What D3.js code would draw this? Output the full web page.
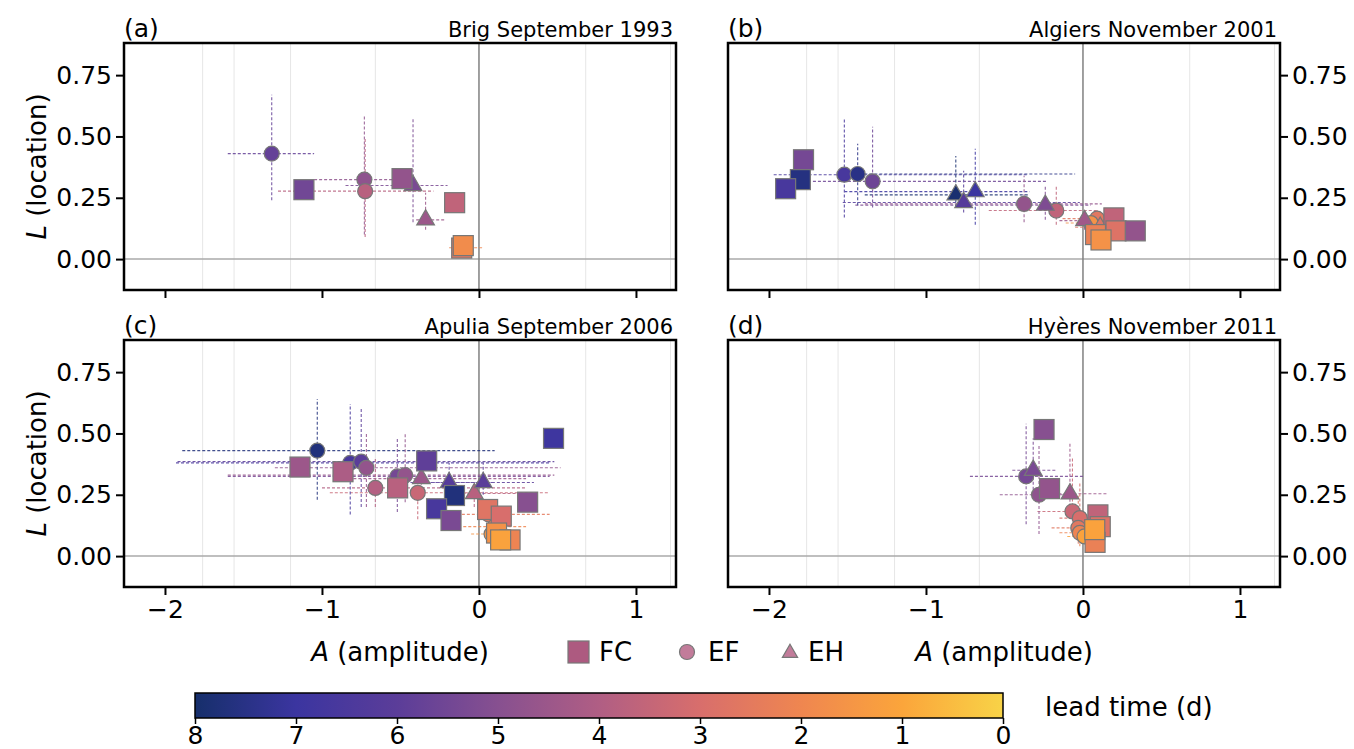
<!DOCTYPE html>
<html>
<head>
<meta charset="utf-8">
<script src="https://cdn.jsdelivr.net/npm/d3@7"></script>
<style>
  body { margin: 0; background: #fff; }
  text { font-family: "DejaVu Sans", sans-serif; fill: #000; }
</style>
</head>
<body>
<svg id="fig" width="1354" height="749"></svg>
<script>
  // ---- data: [A, L, lead] for FC; [A, L, lead, aLo, aHi, lLo, lHi] for EF / EH ----
  var brigFC = [[-1.115, 0.283, 5.5], [-0.49, 0.328, 4.7], [-0.155, 0.23, 3.6], [-0.11, 0.045, 2.6], [-0.10, 0.055, 1.8]];
  var brigEF = [
    [-1.32, 0.43, 5.8, -1.60, -1.05, 0.24, 0.67],
    [-0.73, 0.324, 4.8, -1.05, -0.55, 0.10, 0.59],
    [-0.725, 0.277, 3.8, -1.28, -0.29, 0.09, 0.49],
    [-0.10, 0.046, 2.0, -0.19, 0.02, 0.03, 0.07]
  ];
  var brigEH = [
    [-0.42, 0.30, 5.3, -0.85, -0.20, 0.15, 0.57],
    [-0.34, 0.16, 4.5, -0.40, -0.21, 0.12, 0.27]
  ];

  var algiersFC = [[-1.78, 0.405, 5.4], [-1.80, 0.324, 7.6], [-1.894, 0.287, 6.6], [0.197, 0.168, 3.6], [0.21, 0.115, 2.8], [0.333, 0.115, 4.7], [0.08, 0.10, 2.2], [0.115, 0.078, 1.6]];
  var algiersEF = [
    [-1.52, 0.344, 6.6, -1.97, -0.35, 0.17, 0.57],
    [-1.435, 0.347, 7.5, -1.52, -0.05, 0.22, 0.47],
    [-1.34, 0.317, 5.6, -1.72, -0.23, 0.21, 0.54],
    [-0.375, 0.225, 4.7, -1.39, 0.12, 0.15, 0.34],
    [-0.17, 0.198, 3.6, -0.60, 0.10, 0.14, 0.30],
    [0.09, 0.165, 2.6, -0.13, 0.18, 0.13, 0.20],
    [0.05, 0.147, 1.6, -0.11, 0.12, 0.12, 0.18]
  ];
  var algiersEH = [
    [-0.81, 0.262, 7.9, -1.39, -0.34, 0.21, 0.42],
    [-0.76, 0.231, 6.2, -1.53, -0.02, 0.19, 0.36],
    [-0.686, 0.275, 7.0, -1.52, -0.34, 0.14, 0.45],
    [-0.24, 0.22, 5.2, -1.45, 0.05, 0.16, 0.30],
    [0.01, 0.157, 4.4, -0.15, 0.12, 0.12, 0.20],
    [0.11, 0.13, 2.7, -0.05, 0.18, 0.10, 0.16]
  ];

  var apuliaFC = [[-1.14, 0.363, 4.5], [-0.866, 0.344, 4.1], [-0.518, 0.278, 3.8], [-0.333, 0.388, 5.9], [-0.156, 0.247, 7.7], [-0.27, 0.193, 6.6], [-0.178, 0.145, 5.3], [0.055, 0.19, 2.7], [0.142, 0.163, 3.0], [0.31, 0.22, 5.0], [0.475, 0.48, 6.9], [0.112, 0.094, 1.6], [0.198, 0.066, 2.1], [0.138, 0.066, 1.1]];
  var apuliaEF = [
    [-1.03, 0.43, 7.7, -1.89, 0.10, 0.23, 0.64],
    [-0.82, 0.38, 6.6, -1.93, 0.45, 0.17, 0.62],
    [-0.75, 0.385, 6.0, -1.92, 0.48, 0.20, 0.60],
    [-0.717, 0.36, 4.7, -1.30, 0.52, 0.20, 0.50],
    [-0.66, 0.278, 3.9, -1.00, 0.30, 0.20, 0.40],
    [-0.52, 0.325, 5.4, -1.60, 0.45, 0.18, 0.48],
    [-0.47, 0.33, 4.7, -1.60, 0.48, 0.22, 0.50],
    [-0.39, 0.258, 3.4, -0.95, 0.45, 0.15, 0.33],
    [0.06, 0.17, 2.5, -0.30, 0.45, 0.14, 0.20],
    [0.10, 0.12, 2.0, -0.10, 0.30, 0.10, 0.15],
    [0.08, 0.09, 1.5, -0.05, 0.15, 0.07, 0.11]
  ];
  var apuliaEH = [
    [-0.367, 0.316, 4.5, -0.80, 0.30, 0.27, 0.36],
    [-0.19, 0.30, 6.2, -0.50, 0.10, 0.25, 0.38],
    [-0.03, 0.255, 3.8, -0.20, 0.30, 0.20, 0.30],
    [0.027, 0.30, 6.0, -0.30, 0.35, 0.25, 0.38]
  ];

  var hyeresFC = [[-0.248, 0.516, 5.0], [-0.213, 0.275, 4.7], [0.095, 0.168, 3.6], [0.11, 0.12, 2.8], [0.077, 0.056, 2.2], [0.075, 0.108, 1.1]];
  var hyeresEF = [
    [-0.362, 0.325, 5.4, -0.72, 0.0, 0.13, 0.54],
    [-0.28, 0.25, 4.8, -0.53, -0.11, 0.09, 0.45],
    [-0.067, 0.182, 3.4, -0.29, 0.0, 0.10, 0.40],
    [-0.02, 0.155, 3.0, -0.15, 0.10, 0.08, 0.30],
    [-0.03, 0.115, 2.6, -0.20, 0.05, 0.05, 0.25],
    [-0.02, 0.095, 2.1, -0.15, 0.10, 0.04, 0.20],
    [0.01, 0.08, 1.1, -0.10, 0.07, 0.05, 0.15]
  ];
  var hyeresEH = [
    [-0.317, 0.35, 5.3, -0.45, -0.17, 0.25, 0.48],
    [-0.083, 0.254, 4.5, -0.22, 0.15, 0.16, 0.46]
  ];

  var panelLetters = ["(a)", "(b)", "(c)", "(d)"];
  var panelTitles = ["Brig September 1993", "Algiers November 2001", "Apulia September 2006", "Hyères November 2011"];
  var xTicks = [-2, -1, 0, 1];
  var yTicks = [0, 0.25, 0.5, 0.75];
  var gridA = [-1.76, -1.56, -1.2, -0.66, 0.68, 1.22];
  var leadTicks = [8, 7, 6, 5, 4, 3, 2, 1, 0];
  var cmapColors = ["#162f6b", "#3b35a0", "#5b3d99", "#875090", "#b05e84", "#d86e6c", "#ef8650", "#fba53b", "#f8d347"];

  var panels = [
    {fc: brigFC, ef: brigEF, eh: brigEH, col: 0, row: 0},
    {fc: algiersFC, ef: algiersEF, eh: algiersEH, col: 1, row: 0},
    {fc: apuliaFC, ef: apuliaEF, eh: apuliaEH, col: 0, row: 1},
    {fc: hyeresFC, ef: hyeresEF, eh: hyeresEH, col: 1, row: 1}
  ];

  // ---- layout ----
  var colX = [124, 728],
      rowY = [43, 340],
      pw = 552,
      ph = 247;

  var tickFont = 25,
      labelFont = 26;

  var color = d3.scaleLinear()
      .domain(leadTicks)
      .range(cmapColors)
      .interpolate(d3.interpolateRgb);

  var svg = d3.select("#fig");

  var x = d3.scaleLinear().domain([-2.261, 1.255]).range([0, pw]);
  var y = d3.scaleLinear().domain([-0.126, 0.881]).range([ph, 0]);

  function styleAxis(a, w) {
    a.select(".domain").remove();
    a.attr("font-size", tickFont).attr("font-family", "DejaVu Sans");
    a.selectAll(".tick line").attr("stroke", "#000").attr("stroke-width", w);
  }

  panels.forEach(function(p, i) {
    var g = svg.append("g")
        .attr("transform", "translate(" + colX[p.col] + "," + rowY[p.row] + ")");

    g.append("defs").append("clipPath").attr("id", "clip" + i)
      .append("rect").attr("width", pw).attr("height", ph);

    var plot = g.append("g").attr("clip-path", "url(#clip" + i + ")");

    plot.selectAll(".grid").data(gridA).enter().append("line")
        .attr("x1", d => x(d)).attr("x2", d => x(d))
        .attr("y1", 0).attr("y2", ph)
        .attr("stroke", "#e6e6e6").attr("stroke-width", 1);

    plot.append("line")
        .attr("x1", 0).attr("x2", pw).attr("y1", y(0)).attr("y2", y(0))
        .attr("stroke", "#aaa").attr("stroke-width", 1.5);
    plot.append("line")
        .attr("x1", x(0)).attr("x2", x(0)).attr("y1", 0).attr("y2", ph)
        .attr("stroke", "#808080").attr("stroke-width", 1.5);

    // error bars
    var err = p.ef.concat(p.eh);
    var eb = plot.append("g").attr("stroke-dasharray", "3,2").attr("stroke-width", 1.1).attr("opacity", 0.85);
    eb.selectAll(".h").data(err).enter().append("line")
        .attr("x1", d => x(d[3])).attr("x2", d => x(d[4]))
        .attr("y1", d => y(d[1])).attr("y2", d => y(d[1]))
        .attr("stroke", d => color(d[2]));
    eb.selectAll(".v").data(err).enter().append("line")
        .attr("x1", d => x(d[0])).attr("x2", d => x(d[0]))
        .attr("y1", d => y(d[5])).attr("y2", d => y(d[6]))
        .attr("stroke", d => color(d[2]));

    // markers
    plot.selectAll(".ef").data(p.ef).enter().append("circle")
        .attr("cx", d => x(d[0])).attr("cy", d => y(d[1])).attr("r", 7.5)
        .attr("fill", d => color(d[2])).attr("stroke", "#777").attr("stroke-width", 1.2);

    var tri = d3.symbol().type(d3.symbolTriangle).size(135);
    plot.selectAll(".eh").data(p.eh).enter().append("path")
        .attr("d", tri)
        .attr("transform", d => "translate(" + x(d[0]) + "," + y(d[1]) + ")")
        .attr("fill", d => color(d[2])).attr("stroke", "#777").attr("stroke-width", 1.2);

    plot.selectAll(".fc").data(p.fc).enter().append("rect")
        .attr("x", d => x(d[0]) - 10).attr("y", d => y(d[1]) - 10)
        .attr("width", 20).attr("height", 20)
        .attr("fill", d => color(d[2])).attr("stroke", "#777").attr("stroke-width", 1.2);

    // axes
    var xAxis = d3.axisBottom(x).tickValues(xTicks).tickSize(8).tickPadding(5)
        .tickFormat(p.row === 0 ? "" : d3.format("d"));
    var xg = g.append("g").attr("transform", "translate(0," + ph + ")").call(xAxis);

    var yAxis = (p.col === 0 ? d3.axisLeft(y) : d3.axisRight(y))
        .tickValues(yTicks).tickSize(8).tickPadding(4)
        .tickFormat(d3.format(".2f"));
    var yg = g.append("g").attr("transform", "translate(" + (p.col === 0 ? 0 : pw) + ",0)").call(yAxis);

    styleAxis(xg, 2);
    styleAxis(yg, 2);

    g.append("rect")
        .attr("width", pw).attr("height", ph)
        .attr("fill", "none").attr("stroke", "#000").attr("stroke-width", 2.5);

    g.append("text").attr("x", 0).attr("y", -6)
        .attr("font-size", 25).text(panelLetters[i]);
    g.append("text").attr("x", pw - 3).attr("y", -6)
        .attr("text-anchor", "end")
        .attr("font-size", 21).text(panelTitles[i]);
  });

  // y labels
  [0, 1].forEach(function(r) {
    var t = svg.append("text")
        .attr("transform", "translate(46," + (rowY[r] + ph / 2) + ") rotate(-90)")
        .attr("text-anchor", "middle")
        .attr("font-size", labelFont);
    t.append("tspan").attr("font-style", "italic").text("L");
    t.append("tspan").text(" (location)");
  });

  // x labels
  [0, 1].forEach(function(c) {
    var t = svg.append("text")
        .attr("x", colX[c] + pw / 2).attr("y", 661)
        .attr("text-anchor", "middle")
        .attr("font-size", labelFont);
    t.append("tspan").attr("font-style", "italic").text("A");
    t.append("tspan").text(" (amplitude)");
  });

  // legend
  var leg = svg.append("g").attr("transform", "translate(0,652)");
  leg.append("rect").attr("x", 568).attr("y", -11).attr("width", 21).attr("height", 22)
      .attr("fill", "#ad5a80").attr("stroke", "#777").attr("stroke-width", 1.2);
  leg.append("text").attr("x", 599).attr("y", 9).attr("font-size", labelFont).text("FC");
  leg.append("circle").attr("cx", 687).attr("cy", 0).attr("r", 7.5)
      .attr("fill", "#c27c9a").attr("stroke", "#777").attr("stroke-width", 1.2);
  leg.append("text").attr("x", 708).attr("y", 9).attr("font-size", labelFont).text("EF");
  leg.append("path").attr("d", d3.symbol().type(d3.symbolTriangle).size(100))
      .attr("transform", "translate(790,1)")
      .attr("fill", "#c27c9a").attr("stroke", "#777").attr("stroke-width", 1.2);
  leg.append("text").attr("x", 808).attr("y", 9).attr("font-size", labelFont).text("EH");

  // colorbar
  var cbX0 = 195, cbX1 = 1003, cbY = 693, cbH = 25;
  var cx = d3.scaleLinear().domain([8, 0]).range([cbX0, cbX1]);

  var grad = svg.append("defs").append("linearGradient").attr("id", "cbgrad");
  leadTicks.forEach(function(v) {
    grad.append("stop")
        .attr("offset", (8 - v) / 8)
        .attr("stop-color", color(v));
  });
  svg.append("rect")
      .attr("x", cbX0).attr("y", cbY).attr("width", cbX1 - cbX0).attr("height", cbH)
      .attr("fill", "url(#cbgrad)").attr("stroke", "#000").attr("stroke-width", 1.5);

  var cbAxis = svg.append("g").attr("transform", "translate(0," + (cbY + cbH) + ")")
      .call(d3.axisBottom(cx).tickValues(leadTicks).tickSize(6).tickPadding(2).tickFormat(d3.format("d")));
  styleAxis(cbAxis, 1.5);

  svg.append("text").attr("x", 1045).attr("y", 716)
      .attr("font-size", labelFont).text("lead time (d)");
</script>
</body>
</html>
